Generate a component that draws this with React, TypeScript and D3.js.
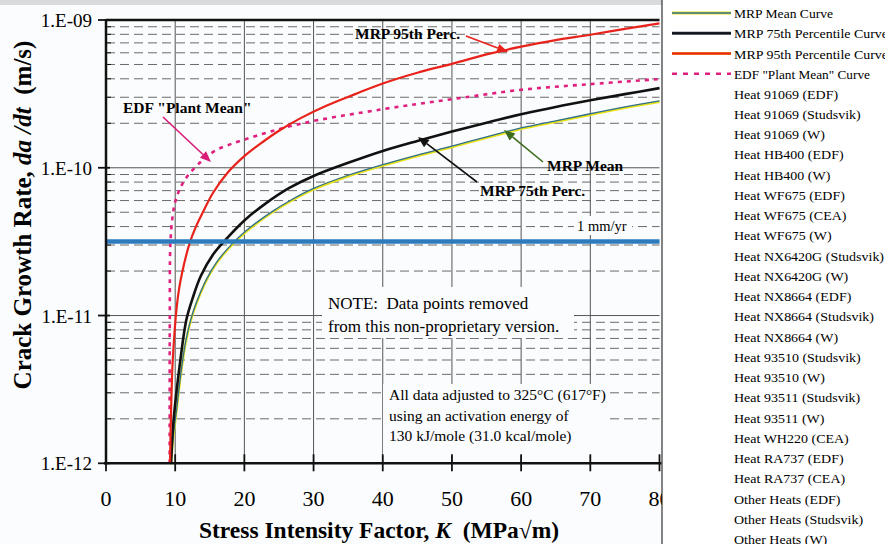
import React from "react";
import * as d3 from "d3";

// curve points: [K (MPa√m), da/dt (m/s)]
const mrpMean: [number, number][] = [
  [9.4, 1.0e-12], [9.7, 1.5e-12], [10.2, 2.3e-12], [10.8, 4.0e-12], [11.5, 6.6e-12],
  [12.2, 9.2e-12], [13, 1.2e-11], [14.5, 1.75e-11], [16, 2.3e-11], [18.5, 3.15e-11],
  [21, 4.0e-11], [24, 5.05e-11], [27, 6.15e-11], [30, 7.25e-11], [35, 8.9e-11],
  [40, 1.05e-10], [45, 1.22e-10], [50, 1.4e-10], [55, 1.62e-10], [60, 1.86e-10],
  [65, 2.08e-10], [70, 2.32e-10], [75, 2.58e-10], [80, 2.84e-10],
];
const mrp75: [number, number][] = [
  [9.4, 1.0e-12], [9.7, 1.8e-12], [10.1, 2.8e-12], [10.7, 4.8e-12], [11.6, 9.3e-12],
  [12.5, 1.3e-11], [13.7, 1.85e-11], [15.5, 2.6e-11], [17.4, 3.3e-11], [20, 4.4e-11],
  [23, 5.7e-11], [26.5, 7.3e-11], [30, 8.8e-11], [35, 1.08e-10], [40, 1.3e-10],
  [45, 1.52e-10], [50, 1.76e-10], [55, 2.02e-10], [60, 2.3e-10], [65, 2.58e-10],
  [70, 2.86e-10], [75, 3.15e-10], [80, 3.46e-10],
];
const mrp95: [number, number][] = [
  [9.25, 1.0e-12], [9.4, 2.2e-12], [9.6, 4.5e-12], [9.8, 6.5e-12], [10.1, 1.0e-11],
  [10.5, 1.45e-11], [11, 1.95e-11], [12.1, 3.1e-11], [13, 4.0e-11], [14, 5.0e-11],
  [15.5, 6.8e-11], [17.6, 9.3e-11], [20, 1.2e-10], [22.7, 1.5e-10], [25, 1.78e-10],
  [28, 2.15e-10], [32, 2.65e-10], [36, 3.15e-10], [40, 3.72e-10], [45, 4.4e-10],
  [50, 5.05e-10], [55, 5.85e-10], [60, 6.6e-10], [65, 7.3e-10], [70, 7.95e-10],
  [75, 8.7e-10], [80, 9.5e-10],
];
const edfPlantMean: [number, number][] = [
  [9.2, 1.0e-12], [9.22, 1.0e-11], [9.3, 3.0e-11], [9.6, 4.6e-11], [10.1, 6.1e-11],
  [11.4, 8.3e-11], [14, 1.13e-10], [16, 1.32e-10], [20, 1.55e-10], [28, 1.98e-10],
  [40, 2.49e-10], [50, 2.91e-10], [60, 3.37e-10], [70, 3.68e-10], [80, 3.98e-10],
];
const oneMmPerYear = 3.17e-11;

const xTicks = [0, 10, 20, 30, 40, 50, 60, 70, 80];
const yDecades = [1e-12, 1e-11, 1e-10, 1e-9];
const yTickLabels = ["1.E-12", "1.E-11", "1.E-10", "1.E-09"];
const minorMult = [2, 3, 4, 5, 6, 7, 8, 9];

const curveLegend = [
  "MRP Mean Curve", "MRP 75th Percentile Curve", "MRP 95th Percentile Curve", 'EDF "Plant Mean" Curve',
];
const curveLegendWidth = [99, 154, 154, 136];
const heatLegend = [
  "Heat 91069 (EDF)", "Heat 91069 (Studsvik)", "Heat 91069 (W)", "Heat HB400 (EDF)", "Heat HB400 (W)",
  "Heat WF675 (EDF)", "Heat WF675 (CEA)", "Heat WF675 (W)", "Heat NX6420G (Studsvik)", "Heat NX6420G (W)",
  "Heat NX8664 (EDF)", "Heat NX8664 (Studsvik)", "Heat NX8664 (W)", "Heat 93510 (Studsvik)", "Heat 93510 (W)",
  "Heat 93511 (Studsvik)", "Heat 93511 (W)", "Heat WH220 (CEA)", "Heat RA737 (EDF)", "Heat RA737 (CEA)",
  "Other Heats (EDF)", "Other Heats (Studsvik)", "Other Heats (W)",
];

const serif = "'Liberation Serif', 'Times New Roman', serif";

const App = () => {
  const left = 106, right = 659.5, top = 20, bottom = 463.3;
  const x = d3.scaleLinear().domain([0, 80]).range([left, right]);
  const y = d3.scaleLog().domain([1e-12, 1e-9]).range([bottom, top]);
  const line = d3.line<[number, number]>()
    .x(d => x(d[0]))
    .y(d => y(d[1]))
    .curve(d3.curveCatmullRom.alpha(0.5));

  const minors: number[] = [];
  yDecades.slice(0, 3).forEach(dec => minorMult.forEach(m => minors.push(dec * m)));

  const arrow = (x1: number, y1: number, x2: number, y2: number, color: string, key: string) => {
    const a = Math.atan2(y2 - y1, x2 - x1);
    const L = 11, W = 4.5;
    const bx = x2 - L * Math.cos(a), by = y2 - L * Math.sin(a);
    const p1 = [bx + W * Math.sin(a), by - W * Math.cos(a)];
    const p2 = [bx - W * Math.sin(a), by + W * Math.cos(a)];
    return (
      <g key={key}>
        <line x1={x1} y1={y1} x2={bx} y2={by} stroke={color} strokeWidth={1.6} />
        <polygon points={`${x2},${y2} ${p1[0]},${p1[1]} ${p2[0]},${p2[1]}`} fill={color} />
      </g>
    );
  };

  const legendY = (i: number) => 13 + i * 20.25;
  const bg = "#fbfcfd";

  return (
    <svg width={885} height={544} style={{ position: "absolute", left: 0, top: 0, background: "#fff" }}
      fontFamily={serif}>
      <rect x={0} y={0} width={885} height={544} fill={bg} />
      <rect x={0} y={0} width={885} height={5} fill="#d9dadb" />

      {/* grid */}
      {minors.map(v => (
        <line key={"mn" + v} x1={left} x2={right} y1={y(v)} y2={y(v)}
          stroke="#6a6a6a" strokeWidth={1} strokeDasharray="9,5" />
      ))}
      {yDecades.slice(1, 3).map(v => (
        <line key={"mj" + v} x1={left} x2={right} y1={y(v)} y2={y(v)} stroke="#555" strokeWidth={1} />
      ))}
      {xTicks.slice(1, 8).map(t => (
        <line key={"vx" + t} x1={x(t)} x2={x(t)} y1={top} y2={bottom} stroke="#555" strokeWidth={1} />
      ))}

      {/* text boxes blanking the grid */}
      <rect x={574} y={216} width={58} height={19} fill={bg} />
      <rect x={322} y={287} width={252} height={51} fill={bg} />
      <rect x={383} y={384} width={227} height={72} fill={bg} />

      <text x={577} y={231} fontSize={14.5}>1 mm/yr</text>
      <text x={328} y={309} fontSize={17} xmlSpace="preserve">NOTE:  Data points removed</text>
      <text x={328} y={332} fontSize={17}>from this non-proprietary version.</text>
      <text x={389} y={400} fontSize={15.5}>All data adjusted to 325°C (617°F)</text>
      <text x={389} y={421} fontSize={15.5}>using an activation energy of</text>
      <text x={389} y={441} fontSize={15.5}>130 kJ/mole (31.0 kcal/mole)</text>

      {/* curves */}
      <path d={line(edfPlantMean) ?? ""} fill="none" stroke="#e0207f" strokeWidth={2.6} strokeDasharray="4,5" />
      <path d={line(mrpMean) ?? ""} fill="none" stroke="#e8e21a" strokeWidth={2.4} transform="translate(0,1)" />
      <path d={line(mrpMean) ?? ""} fill="none" stroke="#2f6f8f" strokeWidth={1.3} />
      <path d={line(mrp75) ?? ""} fill="none" stroke="#111" strokeWidth={2.6} />
      <path d={line(mrp95) ?? ""} fill="none" stroke="#e8231c" strokeWidth={2.2} />

      {/* 1 mm/yr line */}
      <line x1={left} x2={right} y1={y(oneMmPerYear)} y2={y(oneMmPerYear)} stroke="#2b7bbd" strokeWidth={4.5} />

      {/* axes */}
      <line x1={left} x2={right} y1={top} y2={top} stroke="#111" strokeWidth={2.5} />
      <line x1={left} x2={left} y1={top - 1} y2={bottom + 1} stroke="#111" strokeWidth={2.5} />
      <line x1={left - 2} x2={right + 2} y1={bottom} y2={bottom} stroke="#111" strokeWidth={2.5} />
      {minors.map(v => (
        <line key={"mt" + v} x1={left} x2={left + 5} y1={y(v)} y2={y(v)} stroke="#111" strokeWidth={1} />
      ))}
      {yDecades.map((v, i) => (
        <g key={"yt" + v}>
          <line x1={left - 8} x2={left + 4} y1={y(v)} y2={y(v)} stroke="#111" strokeWidth={1.8} />
          <text x={92} y={y(v) + 7} fontSize={19} textAnchor="end">{yTickLabels[i]}</text>
        </g>
      ))}
      {xTicks.map(t => (
        <g key={"xt" + t}>
          <line x1={x(t)} x2={x(t)} y1={bottom - 9} y2={bottom + 8} stroke="#111" strokeWidth={1.8} />
          <text x={x(t)} y={506} fontSize={22} textAnchor="middle">{t}</text>
        </g>
      ))}

      <text x={379} y={538} fontSize={23.5} fontWeight="bold" textAnchor="middle" xmlSpace="preserve">
        Stress Intensity Factor, <tspan fontStyle="italic">K</tspan>  (MPa√m)
      </text>
      <text transform="translate(31,215) rotate(-90)" fontSize={25} fontWeight="bold" textAnchor="middle"
        xmlSpace="preserve">
        Crack Growth Rate, <tspan fontStyle="italic">da /dt</tspan>  (m/s)
      </text>

      {/* annotations */}
      <text x={355} y={39} fontSize={15.5} fontWeight="bold">MRP 95th Perc.</text>
      {arrow(466, 36, 508, 52, "#e8231c", "a95")}
      <text x={123} y={113} fontSize={15.5} fontWeight="bold">EDF "Plant Mean"</text>
      {arrow(163, 117, 211, 162, "#d81b78", "aedf")}
      <text x={547} y={171} fontSize={15.5} fontWeight="bold">MRP Mean</text>
      {arrow(543, 162, 504, 130, "#3d6b1c", "amean")}
      <text x={480} y={196} fontSize={15.5} fontWeight="bold">MRP 75th Perc.</text>
      {arrow(477, 182, 418, 137, "#111", "a75")}

      {/* legend */}
      <rect x={662} y={-1} width={240} height={560} fill="#fff" stroke="#333" strokeWidth={1.2} />
      <line x1={672} x2={731} y1={legendY(0)} y2={legendY(0)} stroke="#e8e21a" strokeWidth={3} />
      <line x1={672} x2={731} y1={legendY(0)} y2={legendY(0)} stroke="#2f6f8f" strokeWidth={1.5} />
      <line x1={672} x2={731} y1={legendY(1)} y2={legendY(1)} stroke="#1c2a44" strokeWidth={3} />
      <line x1={672} x2={731} y1={legendY(1)} y2={legendY(1)} stroke="#111" strokeWidth={1.5} />
      <line x1={672} x2={731} y1={legendY(2)} y2={legendY(2)} stroke="#f0a020" strokeWidth={3} />
      <line x1={672} x2={731} y1={legendY(2)} y2={legendY(2)} stroke="#e8231c" strokeWidth={1.8} />
      <line x1={672} x2={731} y1={legendY(3)} y2={legendY(3)} stroke="#e0207f" strokeWidth={2.4} strokeDasharray="5,6" />
      {curveLegend.map((t, i) => (
        <text key={t} x={734} y={legendY(i) + 5} fontSize={13.5}
          textLength={curveLegendWidth[i]} lengthAdjust="spacingAndGlyphs">{t}</text>
      ))}
      {heatLegend.map((t, i) => (
        <text key={t} transform={`translate(734,${legendY(i + 4) + 4.5}) scale(1.12,1)`} fontSize={12.5}>{t}</text>
      ))}
    </svg>
  );
};

export default App;
